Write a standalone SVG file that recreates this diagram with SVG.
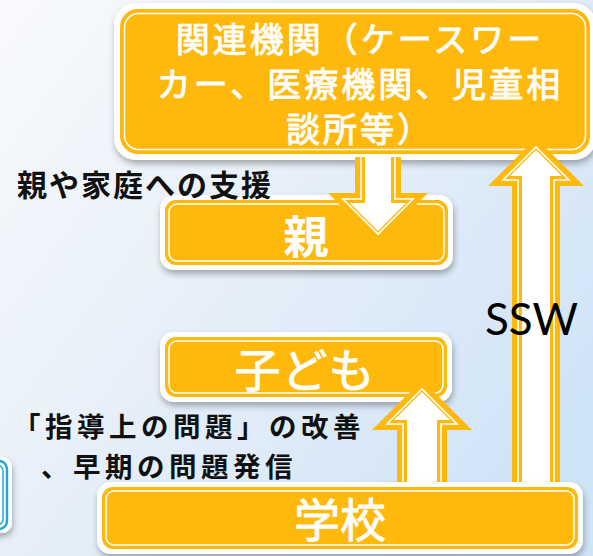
<svg xmlns="http://www.w3.org/2000/svg" width="593" height="556" viewBox="0 0 593 556">
  <defs>
    <linearGradient id="bg" x1="0" y1="0" x2="1" y2="0.7">
      <stop offset="0" stop-color="#f9fafc"/>
      <stop offset="0.45" stop-color="#e8f0f9"/>
      <stop offset="1" stop-color="#d0e4f7"/>
    </linearGradient>
    <filter id="shadow" x="-10%" y="-20%" width="120%" height="150%">
      <feDropShadow dx="1" dy="4" stdDeviation="3" flood-color="#000" flood-opacity="0.3"/>
    </filter>
    <style>
      .frame { fill: #ffffff; filter: url(#shadow); }
      .body { fill: #FFB80C; }
      .inline { fill: none; stroke: #ffffff; stroke-width: 1.5; }
      .nodetext { fill: #ffffff; stroke: #ffffff; stroke-width: 0.9; font-family: "Noto Sans CJK JP", "Noto Sans", sans-serif; text-anchor: middle; }
      .label { fill: #111111; font-family: "Noto Sans CJK JP", "Noto Sans", sans-serif; font-weight: bold; font-size: 30px; letter-spacing: 2px; }
      .label-sm { font-size: 27.5px; letter-spacing: 4.5px; }
      .arrow-out { fill: #FFB80C; }
      .arrow-line { fill: none; stroke: #ffffff; stroke-width: 1.6; stroke-linejoin: miter; }
      .arrow-in { fill: #ffffff; }
    </style>
  </defs>

  <rect x="0" y="0" width="593" height="556" fill="url(#bg)"/>

  <!-- partial box at left edge -->
  <g id="edge-box">
    <rect x="-60" y="457" width="72" height="76" rx="10" class="frame"/>
    <rect x="-60" y="461" width="67" height="68" rx="8" fill="none" stroke="#23A8D8" stroke-width="2.5"/>
    <rect x="-60" y="465" width="63" height="60" rx="6" fill="none" stroke="#23A8D8" stroke-width="1.5"/>
  </g>

  <g id="kanren">
    <rect x="114" y="3" width="482" height="157" rx="22" class="frame"/>
    <rect x="120" y="9" width="470" height="145" rx="18" class="body"/>
    <rect x="124.5" y="13.5" width="461" height="136" rx="14" class="inline"/>
    <text class="nodetext" font-size="34" letter-spacing="3" x="360" y="52">関連機関（ケースワー</text>
    <text class="nodetext" font-size="34" letter-spacing="3" x="360" y="97">カー、医療機関、児童相</text>
    <text class="nodetext" font-size="34" letter-spacing="3" x="360" y="142">談所等）</text>
  </g>

  <g id="oya">
    <rect x="160" y="195" width="293" height="75" rx="14" class="frame"/>
    <rect x="165" y="200" width="283" height="65" rx="11" class="body"/>
    <rect x="169" y="204" width="275" height="57" rx="8" class="inline"/>
    <text class="nodetext" font-size="45" style="font-weight:bold;stroke-width:0" x="306" y="254">親</text>
  </g>

  <g id="kodomo">
    <rect x="160" y="332" width="292" height="70" rx="14" class="frame"/>
    <rect x="165" y="337" width="282" height="60" rx="11" class="body"/>
    <rect x="169" y="341" width="274" height="52" rx="8" class="inline"/>
    <text class="nodetext" font-size="46" letter-spacing="1" x="305" y="387">子ども</text>
  </g>

  <g id="connectors">
    <!-- down arrow: 関連機関 -> 親 -->
    <g id="arrow-down">
      <polygon class="arrow-out" points="355,157 401,157 401,193 428,193 378,243 328,193 355,193"/>
      <polyline class="arrow-line" points="361,157 361,199 343,199 378,234 413,199 395,199 395,157"/>
      <polygon class="arrow-in" points="365,157 391,157 391,203 406,203 378,231 350,203 365,203"/>
    </g>
    <!-- up arrow: 学校 -> 子ども -->
    <g id="arrow-up-kodomo">
      <polygon class="arrow-out" points="397,492 397,430 372,430 422,380 472,430 447,430 447,492"/>
      <polyline class="arrow-line" points="403,492 403,424 387,424 422,389 457,424 441,424 441,492"/>
      <polygon class="arrow-in" points="407,492 407,420 394,420 422,392 450,420 437,420 437,492"/>
    </g>
    <!-- SSW arrow: 学校 -> 関連機関 -->
    <g id="arrow-ssw">
      <polygon class="arrow-out" points="512,500 512,186 488,186 536,138 584,186 560,186 560,500"/>
      <polyline class="arrow-line" points="518,500 518,180 503,180 536,147 569,180 554,180 554,500"/>
      <polygon class="arrow-in" points="522,500 522,176 510,176 536,150 562,176 550,176 550,500"/>
    </g>
    <text x="485" y="335" font-family="Lato, 'Open Sans', sans-serif" font-size="44" fill="#000000">SSW</text>
    <text class="label" x="17" y="196">親や家庭への支援</text>
    <text class="label label-sm" x="13" y="437">「指導上の問題」の改善</text>
    <text class="label label-sm" x="41" y="477">、早期の問題発信</text>
  </g>

  <g id="gakko">
    <rect x="97" y="482" width="486" height="72" rx="14" class="frame"/>
    <rect x="102" y="487" width="476" height="62" rx="11" class="body"/>
    <rect x="106" y="491" width="468" height="54" rx="8" class="inline"/>
    <text class="nodetext" font-size="46" x="340" y="537">学校</text>
  </g>
</svg>
